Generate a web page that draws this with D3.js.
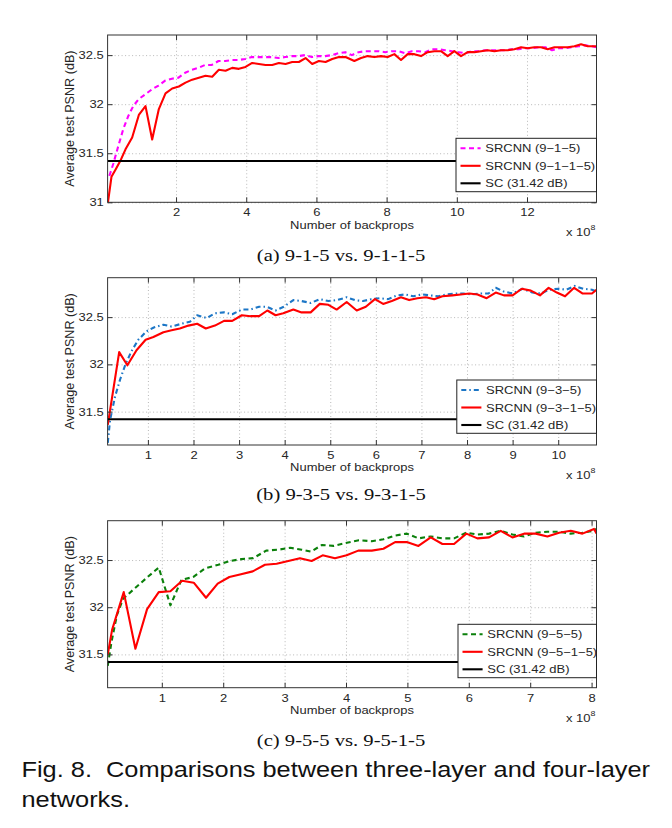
<!DOCTYPE html>
<html><head><meta charset="utf-8">
<script src="https://cdn.jsdelivr.net/npm/d3@7"></script>
<style>
html,body{margin:0;padding:0;background:#fff;}
svg{display:block;}
</style></head>
<body>
<script>
// ---------- DATA ----------
const scPSNR = 31.42;

const xTicksA = [2,4,6,8,10,12];
const yTicksA = [31,31.5,32,32.5];
const xTicksB = [1,2,3,4,5,6,7,8,9,10];
const yTicksB = [31.5,32,32.5];
const xTicksC = [1,2,3,4,5,6,7,8];
const yTicksC = [31.5,32,32.5];

const legendA = ["SRCNN (9\u22121\u22125)","SRCNN (9\u22121\u22121\u22125)","SC (31.42 dB)"];
const legendB = ["SRCNN (9\u22123\u22125)","SRCNN (9\u22123\u22121\u22125)","SC (31.42 dB)"];
const legendC = ["SRCNN (9\u22125\u22125)","SRCNN (9\u22125\u22121\u22125)","SC (31.42 dB)"];

const captions = ["(a) 9-1-5 vs. 9-1-1-5","(b) 9-3-5 vs. 9-3-1-5","(c) 9-5-5 vs. 9-5-1-5"];
const figLines = ["Fig. 8.\u00a0\u00a0Comparisons between three-layer and four-layer","networks."];

// (a) 9-1-5 (magenta dashed) vs 9-1-1-5 (red)
const a915_x = [0.10,0.21,0.36,0.50,0.64,0.78,0.93,1.12,1.31,1.50,1.69,1.88,2.07,2.26,2.45,2.64,2.83,3.02,3.21,3.40,3.59,3.78,3.97,4.16,4.35,4.54,4.73,4.92,5.11,5.30,5.49,5.68,5.87,6.06,6.25,6.44,6.63,6.82,7.01,7.20,7.39,7.58,7.77,7.96,8.15,8.34,8.53,8.72,8.91,9.10,9.29,9.48,9.67,9.86,10.05,10.24,10.43,10.62,10.81,11.00,11.19,11.38,11.57,11.76,11.95,12.14,12.33,12.52,12.71,12.90,13.09,13.28,13.47,13.66,13.85,13.98];
const a915_y = [31.27,31.39,31.58,31.75,31.88,31.98,32.05,32.10,32.15,32.19,32.24,32.26,32.27,32.32,32.35,32.37,32.40,32.40,32.44,32.44,32.45,32.45,32.46,32.48,32.48,32.48,32.48,32.47,32.48,32.49,32.49,32.50,32.48,32.49,32.49,32.50,32.52,32.53,32.50,32.53,32.54,32.54,32.54,32.53,32.54,32.54,32.52,32.54,32.54,32.53,32.56,32.56,32.55,32.54,32.53,32.52,32.54,32.54,32.55,32.55,32.55,32.55,32.56,32.56,32.57,32.57,32.58,32.58,32.55,32.57,32.57,32.58,32.59,32.60,32.59,32.58];
const a9115_x = [0.06,0.16,0.27,0.41,0.56,0.75,0.94,1.13,1.32,1.51,1.70,1.89,2.08,2.27,2.46,2.65,2.84,3.03,3.22,3.41,3.60,3.79,3.98,4.17,4.36,4.55,4.74,4.93,5.12,5.31,5.50,5.69,5.88,6.07,6.26,6.45,6.64,6.83,7.08,7.27,7.46,7.65,7.84,8.03,8.22,8.41,8.60,8.79,8.98,9.17,9.36,9.55,9.74,9.93,10.12,10.31,10.50,10.69,10.88,11.07,11.26,11.45,11.64,11.83,12.02,12.21,12.40,12.59,12.78,12.97,13.16,13.35,13.54,13.73,13.92,13.98];
const a9115_y = [31.00,31.26,31.33,31.42,31.54,31.66,31.89,31.98,31.64,31.95,32.11,32.16,32.18,32.22,32.25,32.27,32.29,32.28,32.35,32.34,32.37,32.36,32.38,32.42,32.41,32.40,32.40,32.42,32.41,32.43,32.43,32.47,32.41,32.44,32.43,32.46,32.48,32.48,32.44,32.47,32.49,32.48,32.49,32.48,32.51,32.45,32.51,32.51,32.49,32.53,32.54,32.54,32.49,32.54,32.49,32.53,32.53,32.54,32.55,32.54,32.55,32.55,32.56,32.58,32.57,32.58,32.58,32.56,32.58,32.58,32.58,32.59,32.61,32.59,32.59,32.59];

// (b) 9-3-5 (blue dash-dot) vs 9-3-1-5 (red)
const b935_x = [0.12,0.17,0.28,0.39,0.50,0.64,0.79,0.97,1.13,1.34,1.52,1.74,1.92,2.08,2.29,2.47,2.67,2.85,3.06,3.24,3.44,3.60,3.80,3.98,4.19,4.37,4.57,4.77,4.96,5.15,5.36,5.54,5.72,5.90,6.08,6.27,6.46,6.64,6.82,7.01,7.19,7.37,7.55,7.74,7.92,8.10,8.30,8.47,8.63,8.81,9.00,9.22,9.43,9.62,9.80,10.00,10.18,10.36,10.55,10.74,10.84];
const b935_y = [31.17,31.41,31.66,31.84,31.99,32.14,32.26,32.35,32.39,32.42,32.40,32.43,32.45,32.52,32.49,32.54,32.55,32.53,32.58,32.58,32.61,32.61,32.57,32.61,32.68,32.67,32.65,32.69,32.67,32.68,32.71,32.68,32.67,32.69,32.70,32.69,32.73,32.74,32.72,32.74,32.73,32.72,32.74,32.75,32.75,32.74,32.75,32.75,32.81,32.77,32.75,32.80,32.76,32.75,32.79,32.80,32.79,32.83,32.80,32.79,32.77];
const b9315_x = [0.12,0.37,0.55,0.75,0.95,1.12,1.34,1.52,1.70,1.89,2.08,2.27,2.47,2.67,2.85,3.06,3.25,3.44,3.62,3.80,3.97,4.19,4.37,4.57,4.77,4.96,5.14,5.36,5.58,5.78,5.98,6.16,6.35,6.55,6.73,6.91,7.10,7.28,7.46,7.68,7.86,8.05,8.23,8.43,8.63,8.81,9.00,9.20,9.40,9.60,9.79,9.97,10.15,10.35,10.53,10.74,10.84];
const b9315_y = [31.36,32.13,31.99,32.15,32.26,32.29,32.34,32.36,32.38,32.41,32.43,32.38,32.41,32.46,32.46,32.52,32.51,32.51,32.57,32.52,32.54,32.58,32.55,32.55,32.64,32.63,32.58,32.66,32.57,32.61,32.69,32.64,32.67,32.71,32.68,32.70,32.71,32.69,32.72,32.73,32.74,32.75,32.74,32.70,32.76,32.73,32.73,32.80,32.78,32.73,32.81,32.76,32.72,32.81,32.75,32.75,32.79];

// (c) 9-5-5 (green dashed) vs 9-5-1-5 (red)
const c955_x = [0.12,0.18,0.27,0.37,0.56,0.75,0.95,1.14,1.32,1.51,1.70,1.92,2.11,2.30,2.49,2.70,2.90,3.09,3.28,3.43,3.61,3.80,3.99,4.21,4.42,4.61,4.80,4.99,5.18,5.38,5.57,5.76,5.96,6.14,6.33,6.52,6.71,6.90,7.09,7.28,7.47,7.66,7.85,8.04,8.08];
const c955_y = [31.38,31.63,31.92,32.09,32.20,32.31,32.42,32.02,32.29,32.32,32.41,32.45,32.49,32.51,32.52,32.60,32.61,32.63,32.61,32.59,32.66,32.65,32.68,32.71,32.70,32.72,32.76,32.78,32.73,32.75,32.73,32.73,32.79,32.77,32.78,32.81,32.77,32.75,32.79,32.80,32.80,32.78,32.79,32.81,32.83];
const c9515_x = [0.12,0.19,0.38,0.57,0.76,0.95,1.14,1.33,1.52,1.72,1.91,2.10,2.29,2.48,2.68,2.87,3.06,3.25,3.44,3.62,3.82,4.01,4.20,4.42,4.61,4.80,4.99,5.18,5.38,5.57,5.76,5.96,6.14,6.33,6.52,6.71,6.90,7.09,7.28,7.47,7.66,7.85,8.04,8.08];
const c9515_y = [31.50,31.76,32.16,31.56,31.98,32.16,32.17,32.28,32.26,32.10,32.25,32.32,32.35,32.38,32.45,32.46,32.49,32.52,32.49,32.55,32.52,32.55,32.60,32.60,32.62,32.69,32.69,32.65,32.74,32.67,32.67,32.78,32.73,32.74,32.81,32.74,32.78,32.78,32.75,32.79,32.81,32.78,32.83,32.78];

// ---------- LAYOUT / STYLE ----------
const W = 672, H = 828;
const SX = 1.18;           // horizontal text stretch seen in the figure
const SANS = "'Liberation Sans', Arial, Helvetica, sans-serif";
const SERIF = "'Liberation Serif', 'Times New Roman', serif";
const TXT = "#262626";

const svg = d3.select("body").append("svg").attr("width", W).attr("height", H);
svg.append("rect").attr("width", W).attr("height", H).attr("fill", "#fff");

function stretchedText(parent, x, y, str, size, family, anchor, fill) {
  const g = parent.append("g").attr("transform", `translate(${x},${y}) scale(${SX},1)`);
  return g.append("text").attr("text-anchor", anchor || "start")
    .attr("font-family", family).attr("font-size", size).attr("fill", fill || TXT).text(str);
}

const panels = [
  { id:"a", left:107.6, right:596.5, top:35, bottom:202.3, xDom:[0.05,13.98], yDom:[31,32.705],
    xTicks:xTicksA, yTicks:yTicksA, legend:legendA,
    series:[{x:a915_x,y:a915_y,color:"#ff00ff",dash:"5,3.5"},{x:a9115_x,y:a9115_y,color:"#ff0000",dash:null}],
    legBox:{x:456,y:138.3,w:140.5,h:53.4}, capY:260.5 },
  { id:"b", left:107.6, right:596.5, top:277.7, bottom:445, xDom:[0.116,10.84], yDom:[31.147,32.917],
    xTicks:xTicksB, yTicks:yTicksB, legend:legendB,
    series:[{x:b935_x,y:b935_y,color:"#1c76c6",dash:"5,3,1.5,3"},{x:b9315_x,y:b9315_y,color:"#ff0000",dash:null}],
    legBox:{x:456.8,y:380,w:139.7,h:53.3}, capY:500 },
  { id:"c", left:107.6, right:596.5, top:520.7, bottom:687.7, xDom:[0.117,8.08], yDom:[31.147,32.917],
    xTicks:xTicksC, yTicks:yTicksC, legend:legendC,
    series:[{x:c955_x,y:c955_y,color:"#0b800b",dash:"5,3.5"},{x:c9515_x,y:c9515_y,color:"#ff0000",dash:null}],
    legBox:{x:458,y:624.3,w:138.5,h:53.4}, capY:746 }
];

panels.forEach((p, pi) => {
  const w = p.right - p.left, h = p.bottom - p.top;
  const g = svg.append("g").attr("transform", `translate(${p.left},${p.top})`);
  const x = d3.scaleLinear().domain(p.xDom).range([0, w]);
  const y = d3.scaleLinear().domain(p.yDom).range([h, 0]);

  g.append("rect").attr("width", w).attr("height", h).attr("fill", "#fff");

  // grid
  const gx = g.append("g").attr("transform", `translate(0,${h})`)
    .call(d3.axisBottom(x).tickValues(p.xTicks).tickSize(-h).tickFormat(""));
  const gy = g.append("g").call(d3.axisLeft(y).tickValues(p.yTicks).tickSize(-w).tickFormat(""));
  [gx, gy].forEach(a => {
    a.select(".domain").remove();
    a.selectAll("line").attr("stroke", "#b8b8b8").attr("stroke-width", 1).attr("stroke-dasharray", "1,2.5");
  });

  // clip
  const cid = "clip" + p.id;
  g.append("clipPath").attr("id", cid).append("rect").attr("width", w).attr("height", h);
  const plot = g.append("g").attr("clip-path", `url(#${cid})`);

  const line = d3.line().x(d => x(d[0])).y(d => y(d[1]));
  p.series.forEach(s => {
    const pts = s.x.map((v, i) => [v, s.y[i]]);
    plot.append("path").datum(pts).attr("d", line).attr("fill", "none")
      .attr("stroke", s.color).attr("stroke-width", 2.1)
      .attr("stroke-linejoin", "round")
      .attr("stroke-dasharray", s.dash);
  });
  plot.append("path").datum([[p.xDom[0], scPSNR], [p.xDom[1], scPSNR]]).attr("d", line)
    .attr("fill", "none").attr("stroke", "#000").attr("stroke-width", 2);

  // inward tick marks on all sides
  const tk = 5;
  const tb = g.append("g").attr("transform", `translate(0,${h})`).call(d3.axisBottom(x).tickValues(p.xTicks).tickSize(-tk).tickFormat(""));
  const tt = g.append("g").call(d3.axisTop(x).tickValues(p.xTicks).tickSize(-tk).tickFormat(""));
  const tl = g.append("g").call(d3.axisLeft(y).tickValues(p.yTicks).tickSize(-tk).tickFormat(""));
  const tr = g.append("g").attr("transform", `translate(${w},0)`).call(d3.axisRight(y).tickValues(p.yTicks).tickSize(-tk).tickFormat(""));
  [tb, tt, tl, tr].forEach(a => { a.select(".domain").remove(); a.selectAll("line").attr("stroke", "#333").attr("stroke-width", 1); });

  // box
  g.append("rect").attr("width", w).attr("height", h).attr("fill", "none").attr("stroke", "#333").attr("stroke-width", 1);

  // tick labels
  const xl = g.append("g").attr("transform", `translate(0,${h})`)
    .call(d3.axisBottom(x).tickValues(p.xTicks).tickSize(0).tickPadding(6).tickFormat(d3.format("d")));
  xl.select(".domain").remove();
  xl.selectAll("text").attr("transform", `scale(${SX},1)`).attr("font-family", SANS).attr("font-size", 11).attr("fill", TXT);
  const yl = g.append("g").call(d3.axisLeft(y).tickValues(p.yTicks).tickSize(0).tickFormat(d => String(d)));
  yl.select(".domain").remove();
  yl.selectAll("text").attr("x", -3.8 / SX).attr("transform", `scale(${SX},1)`).attr("font-family", SANS).attr("font-size", 11).attr("fill", TXT);

  // axis titles
  stretchedText(g, w / 2, h + 26.2, "Number of backprops", 11, SANS, "middle");
  const xe = stretchedText(g, w - 30.5, h + 34, "x 10", 11, SANS, "start");
  xe.append("tspan").attr("dy", -6).attr("font-size", 7.5).text("8");
  g.append("text").attr("transform", `translate(${74 - p.left},${h / 2}) rotate(-90)`)
    .attr("text-anchor", "middle").attr("font-family", SANS).attr("font-size", 12.6).attr("fill", TXT)
    .text("Average test PSNR (dB)");

  // legend
  const lb = p.legBox;
  const lg = svg.append("g").attr("transform", `translate(${lb.x},${lb.y})`);
  lg.append("rect").attr("width", lb.w).attr("height", lb.h).attr("fill", "#fff").attr("stroke", "#222").attr("stroke-width", 1);
  const rows = [10, 27.5, 45];
  const styles = [p.series[0], p.series[1], {color:"#000", dash:null}];
  p.legend.forEach((lab, i) => {
    lg.append("line").attr("x1", 4.5).attr("x2", 24.6).attr("y1", rows[i]).attr("y2", rows[i])
      .attr("stroke", styles[i].color).attr("stroke-width", 2.1).attr("stroke-dasharray", styles[i].dash);
    stretchedText(lg, 29.3, rows[i] + 4, lab, 11, SANS, "start");
  });

  // caption
  stretchedText(svg, 341, p.capY, captions[pi], 17.5, SERIF, "middle", "#111");
});

// figure caption
stretchedText(svg, 21.5, 777, figLines[0], 21.5, SANS, "start", "#111");
stretchedText(svg, 21.5, 807, figLines[1], 21.5, SANS, "start", "#111");
</script>
</body></html>
